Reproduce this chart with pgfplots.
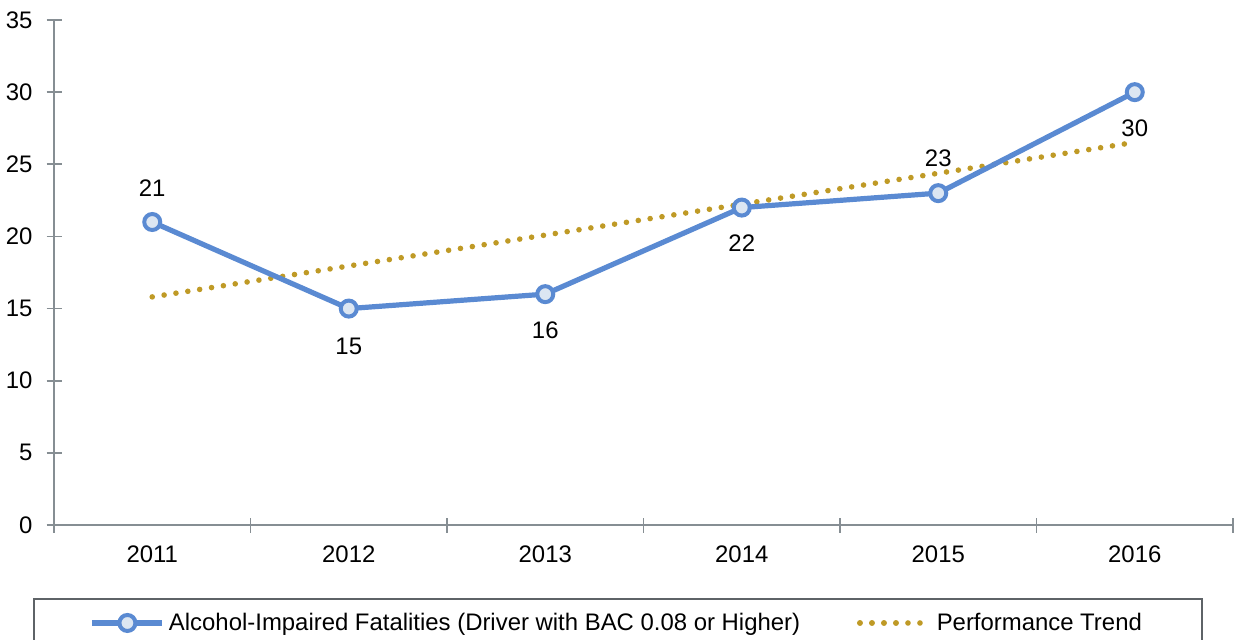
\documentclass[border=0pt]{standalone}
\usepackage{fontspec}
\setmainfont{Liberation Sans}
\usepackage{pgfplots}
\pgfplotsset{compat=1.18}
\usepackage{pgfplotstable}
\definecolor{lineblue}{HTML}{5A8AD2}
\definecolor{markfill}{HTML}{DCE6F2}
\definecolor{trendgold}{HTML}{BF9A26}
\definecolor{axisgrey}{HTML}{868E93}
\pgfplotsset{
  bluelegend/.style={legend image code/.code={\draw[mark repeat=2,mark phase=2,##1] plot coordinates {(0bp,0bp) (17.5bp,0bp) (35bp,0bp)};}},
  trendlegend/.style={legend image code/.code={\draw[##1] (0bp,0bp) -- (23.5bp,0bp); \path (0bp,0bp) -- (35bp,0bp);}},
}
\pgfplotstableread{
x y dy
1 21 17
2 15 -19
3 16 -18
4 22 -18
5 23 17.5
6 30 -18
}\datatable
\pgfplotstableread{
x y
1 15.81
6 26.52
}\trendtable
\begin{document}
\begin{tikzpicture}
\begin{axis}[
  scale only axis, width=589.5bp, height=252.5bp,
  xmin=0.5, xmax=6.5, ymin=0, ymax=35,
  ytick={0,5,...,35},
  xtick={1,...,6}, xticklabels={2011,2012,2013,2014,2015,2016},
  minor xtick={0.5,1.5,...,6.5},
  axis x line*=bottom, axis y line*=left,
  axis line style={axisgrey, line width=0.9bp},
  every tick/.style={axisgrey, line width=0.9bp},
  major x tick style={draw=none},
  tick align=center, major tick length=7.5bp, minor tick length=7.5bp,
  /pgf/number format/assume math mode=true,
  tick label style={font=\fontsize{12}{13}\selectfont, text=black},
  yticklabel style={xshift=-3.5bp},
  xticklabel style={yshift=-3bp},
  clip=false,
  legend columns=2, reverse legend,
  legend style={at={(-0.0178,-0.1446)}, anchor=north west, draw=axisgrey!70!black, line width=0.8bp,
    font=\fontsize{12}{13}\selectfont, inner xsep=28bp, inner ysep=5bp,
    /tikz/every even column/.append style={column sep=26.5bp}},
]
\coordinate (SW) at (rel axis cs:0,0);
\coordinate (NE) at (rel axis cs:1,1);
\addplot[color=trendgold, line width=2.8bp, line cap=round, dash pattern=on 0bp off 6bp, trendlegend] table[x=x, y=y] {\trendtable};
\addlegendentry{Performance Trend}
\addplot[color=lineblue, line width=2.6bp, mark=*, mark size=4bp,
  mark options={fill=markfill, draw=lineblue, line width=2bp},
  nodes near coords, point meta=explicit,
  visualization depends on={\thisrow{dy} \as \dy},
  nodes near coords style={anchor=center, yshift=\dy bp, font=\fontsize{12}{13}\selectfont, text=black},
  bluelegend
] table[x=x, y=y, meta=y] {\datatable};
\addlegendentry{Alcohol-Impaired Fatalities (Driver with BAC 0.08 or Higher)}
\end{axis}
\pgfresetboundingbox
\path[use as bounding box] ([xshift=-27bp,yshift=-57bp]SW) rectangle ([xshift=1.5bp,yshift=10bp]NE);
\end{tikzpicture}
\end{document}
